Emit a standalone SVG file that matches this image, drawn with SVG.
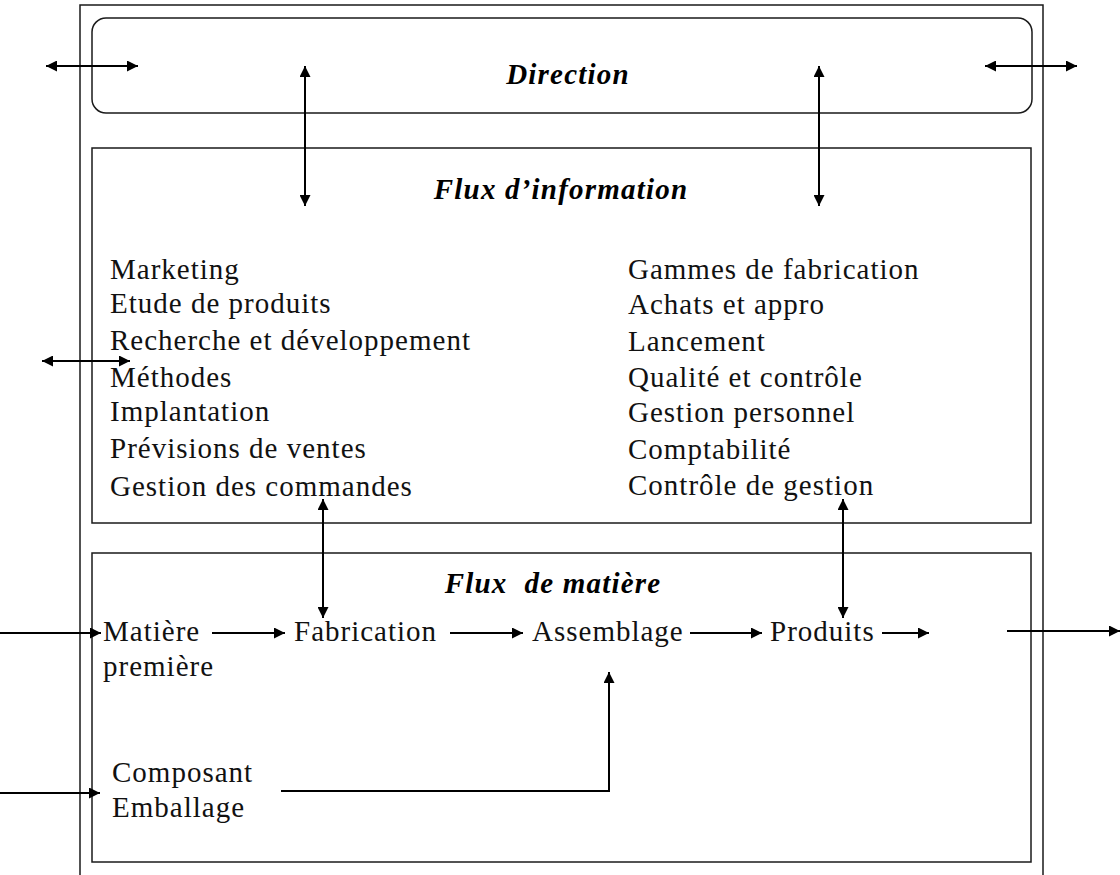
<svg xmlns="http://www.w3.org/2000/svg" width="1120" height="875" viewBox="0 0 1120 875">
<defs>
<style>
.frame{fill:none;stroke:#1a1a1a;stroke-width:1.5}
.ln{fill:none;stroke:#000;stroke-width:2}
.t{font-family:'Liberation Serif','DejaVu Serif',serif;font-size:29px;letter-spacing:1px;fill:#111}
.h{font-family:'Liberation Serif','DejaVu Serif',serif;font-size:29px;font-weight:bold;font-style:italic;letter-spacing:1.2px;fill:#000;text-anchor:middle}
</style>
<marker id="ah" viewBox="0 0 10 10" refX="10" refY="5" markerWidth="11" markerHeight="11" markerUnits="userSpaceOnUse" orient="auto-start-reverse">
<path d="M0,0 L10,5 L0,10 Z" fill="#000"/>
</marker>
</defs>
<rect width="1120" height="875" fill="#fff"/>
<g id="outer"><path class="frame" d="M80,880 V5 H1043 V880"/></g>
<g id="direction">
<rect class="frame" x="92" y="18" width="940" height="95" rx="14"/>
<text class="h" x="568" y="84">Direction</text>
</g>
<g id="flux-information">
<rect class="frame" x="92" y="148" width="939" height="375"/>
<text class="h" x="561" y="199">Flux d’information</text>
<text class="t" x="110" y="279">Marketing</text>
<text class="t" x="110" y="313">Etude de produits</text>
<text class="t" x="110" y="350">Recherche et développement</text>
<text class="t" x="110" y="387">Méthodes</text>
<text class="t" x="110" y="421">Implantation</text>
<text class="t" x="110" y="458">Prévisions de ventes</text>
<text class="t" x="110" y="496">Gestion des commandes</text>
<text class="t" x="628" y="279">Gammes de fabrication</text>
<text class="t" x="628" y="314">Achats et appro</text>
<text class="t" x="628" y="351">Lancement</text>
<text class="t" x="628" y="387">Qualité et contrôle</text>
<text class="t" x="628" y="422">Gestion personnel</text>
<text class="t" x="628" y="459">Comptabilité</text>
<text class="t" x="628" y="495">Contrôle de gestion</text>
</g>
<g id="flux-matiere">
<rect class="frame" x="92" y="553" width="939" height="309"/>
<text class="h" x="553" y="593" style="white-space:pre">Flux  de matière</text>
<text class="t" x="103" y="641">Matière</text>
<text class="t" x="103" y="676">première</text>
<text class="t" x="294" y="641">Fabrication</text>
<text class="t" x="532" y="641">Assemblage</text>
<text class="t" x="770" y="641">Produits</text>
<text class="t" x="112" y="782">Composant</text>
<text class="t" x="112" y="817">Emballage</text>
</g>
<g id="connectors">
<line class="ln" x1="46" y1="66" x2="138" y2="66" marker-start="url(#ah)" marker-end="url(#ah)"/>
<line class="ln" x1="985" y1="66" x2="1077" y2="66" marker-start="url(#ah)" marker-end="url(#ah)"/>
<line class="ln" x1="305" y1="66" x2="305" y2="206" marker-start="url(#ah)" marker-end="url(#ah)"/>
<line class="ln" x1="819" y1="66" x2="819" y2="206" marker-start="url(#ah)" marker-end="url(#ah)"/>
<line class="ln" x1="42" y1="361" x2="130" y2="361" marker-start="url(#ah)" marker-end="url(#ah)"/>
<line class="ln" x1="323" y1="499" x2="323" y2="618" marker-start="url(#ah)" marker-end="url(#ah)"/>
<line class="ln" x1="843" y1="499" x2="843" y2="618" marker-start="url(#ah)" marker-end="url(#ah)"/>
<line class="ln" x1="0" y1="633" x2="101" y2="633" marker-end="url(#ah)"/>
<line class="ln" x1="212" y1="633" x2="285" y2="633" marker-end="url(#ah)"/>
<line class="ln" x1="450" y1="633" x2="523" y2="633" marker-end="url(#ah)"/>
<line class="ln" x1="690" y1="633" x2="762" y2="633" marker-end="url(#ah)"/>
<line class="ln" x1="882" y1="633" x2="929" y2="633" marker-end="url(#ah)"/>
<line class="ln" x1="1007" y1="631" x2="1120" y2="631" marker-end="url(#ah)"/>
<polyline class="ln" points="281,791 609,791 609,672" marker-end="url(#ah)"/>
<line class="ln" x1="0" y1="793" x2="100" y2="793" marker-end="url(#ah)"/>
</g>
</svg>
